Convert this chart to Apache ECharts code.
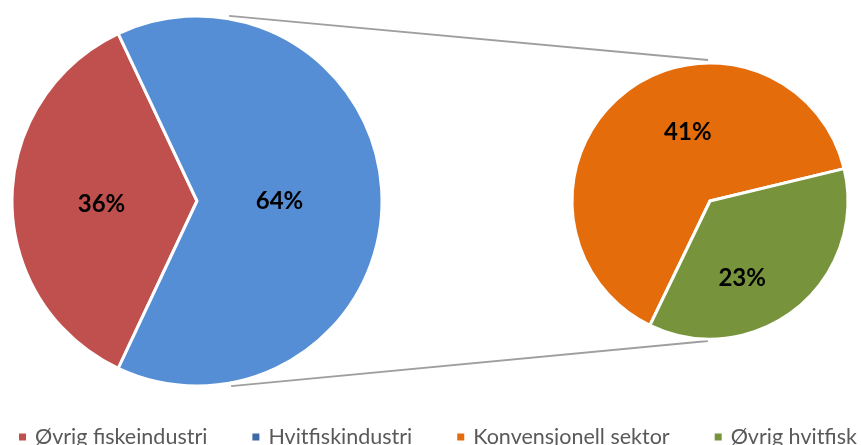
<!DOCTYPE html>
<html>
<head>
<meta charset="utf-8">
<script src="https://cdn.jsdelivr.net/npm/echarts@6/dist/echarts.min.js"></script>
<style>
html,body{margin:0;padding:0;background:#fff;}
#c{width:861px;height:445px;}
</style>
</head>
<body>
<div id="c"></div>
<script>
// Data
const primaryNames = ['Øvrig fiskeindustri', 'Hvitfiskindustri'];
const primaryValues = [36, 64];
const secondaryNames = ['Konvensjonell sektor', 'Øvrig hvitfisk'];
const secondaryValues = [41, 23];

// Styles
const primaryColors = ['#C0504D', '#558ED5'];
const secondaryColors = ['#E46C0A', '#77933C'];
const legendColors = ['#C0504D', '#3F69A6', '#E46C0A', '#77933C'];
const primaryLabelOffsets = [[0, 3], [-13, 0]];
const secondaryLabelOffsets = [[23, -13], [-13, 21]];

const L = { cx: 197, cy: 201, r: 185, start: 244.8 };
const R = { cx: 710, cy: 201, r: 138, start: 244.2 };

const chart = echarts.init(document.getElementById('c'), null, { renderer: 'canvas' });

function mkData(names, values, colors, offsets) {
  return names.map((n, i) => ({
    name: n,
    value: values[i],
    itemStyle: { color: colors[i] },
    label: { offset: offsets[i] }
  }));
}

const labelStyle = {
  show: true,
  position: 'inside',
  formatter: '{c}%',
  fontFamily: 'Lato',
  fontWeight: 'bold',
  fontSize: 24,
  color: '#000'
};

const legendNames = primaryNames.concat(secondaryNames);

// connector line endpoints derived from pie layout
const a1 = 80 * Math.PI / 180;
const topStart = [L.cx + L.r * Math.cos(a1), L.cy - L.r * Math.sin(a1) - 3];
const botStart = [L.cx + L.r * Math.cos(a1) + 2, L.cy + L.r * Math.sin(a1) + 3];
const topEnd = [R.cx - 2, R.cy - R.r - 3];
const botEnd = [R.cx - 2, R.cy + R.r + 2];

chart.setOption({
  animation: false,
  backgroundColor: '#fff',
  legend: {
    data: legendNames.map((n, i) => ({ name: n, itemStyle: { color: legendColors[i] } })),
    icon: 'rect',
    itemWidth: 9,
    itemHeight: 9,
    itemGap: 43,
    left: 17,
    top: 426,
    width: 3000,
    padding: 0,
    textStyle: {
      fontFamily: 'Lato',
      fontSize: 21.5,
      color: '#595959',
      padding: [0, 0, 0, 3]
    }
  },
  graphic: [
    {
      type: 'line', z: 0,
      shape: { x1: topStart[0], y1: topStart[1], x2: topEnd[0], y2: topEnd[1] },
      style: { stroke: '#9F9F9F', lineWidth: 1.8 }
    },
    {
      type: 'line', z: 0,
      shape: { x1: botStart[0], y1: botStart[1], x2: botEnd[0], y2: botEnd[1] },
      style: { stroke: '#9F9F9F', lineWidth: 1.8 }
    }
  ],
  series: [
    {
      type: 'pie',
      center: [L.cx, L.cy],
      radius: [0, L.r],
      startAngle: L.start,
      clockwise: true,
      avoidLabelOverlap: false,
      label: labelStyle,
      labelLine: { show: false },
      itemStyle: { borderColor: '#fff', borderWidth: 3 },
      emphasis: { disabled: true },
      data: mkData(primaryNames, primaryValues, primaryColors, primaryLabelOffsets)
    },
    {
      type: 'pie',
      center: [R.cx, R.cy],
      radius: [0, R.r],
      startAngle: R.start,
      clockwise: true,
      avoidLabelOverlap: false,
      label: labelStyle,
      labelLine: { show: false },
      itemStyle: { borderColor: '#fff', borderWidth: 3 },
      emphasis: { disabled: true },
      data: mkData(secondaryNames, secondaryValues, secondaryColors, secondaryLabelOffsets)
    }
  ]
});
</script>
</body>
</html>
